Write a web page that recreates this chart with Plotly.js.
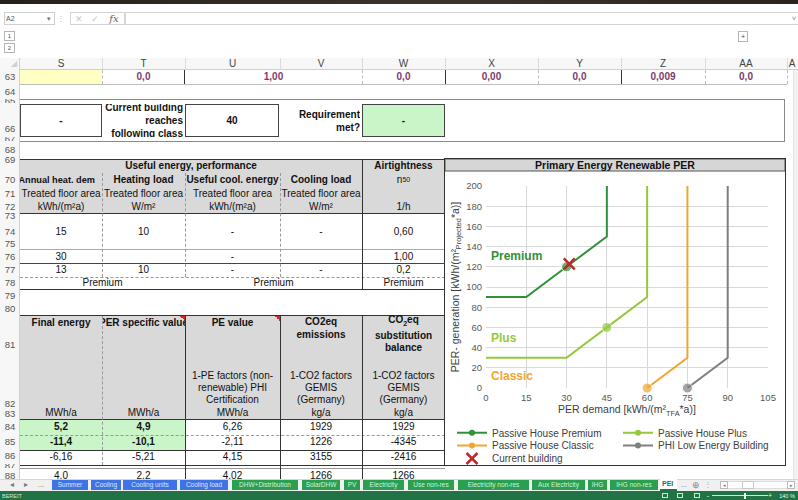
<!DOCTYPE html>
<html><head><meta charset="utf-8">
<script src="https://cdn.plot.ly/plotly-3.0.1.min.js"></script>
<style>
body{margin:0;width:798px;height:500px;overflow:hidden;background:#fff;font-family:Arial,"Liberation Sans",sans-serif;}
#sheet{position:absolute;left:0;top:0;width:798px;height:500px;overflow:hidden;}
.a{position:absolute;box-sizing:border-box;}
.c{position:absolute;box-sizing:border-box;display:flex;align-items:center;justify-content:center;overflow:hidden;white-space:nowrap;font-size:10px;color:#111;line-height:12px;}
#chart{position:absolute;left:445px;top:159px;width:340px;height:306px;z-index:5;outline:2px solid #333;outline-offset:-1px;background:#fff;}
</style></head>
<body><div id="sheet"></div><div id="chart"></div>
<script>
// ---------- chart data ----------
const seriesNames = ['Passive House Premium', 'Passive House Plus', 'Passive House Classic', 'PHI Low Energy Building', 'Current building'];
const premiumDemand = [0, 15, 30, 45, 45];
const premiumGen    = [90, 90, 120, 150, 200];
const premiumMarker = [0, 0, 10, 0, 0];
const plusDemand    = [0, 30, 45, 60, 60];
const plusGen       = [30, 30, 60, 90, 200];
const plusMarker    = [0, 0, 10, 0, 0];
const classicDemand = [60, 75, 75];
const classicGen    = [0, 30, 200];
const classicMarker = [10, 0, 0];
const lowDemand     = [75, 90, 90];
const lowGen        = [0, 30, 200];
const lowMarker     = [10, 0, 0];
const currentDemand = [31];
const currentGen    = [123];
const classLabels   = ['Premium', 'Plus', 'Classic'];
const classLabelY   = [131, 50, 12];
const xTicks = [0, 15, 30, 45, 60, 75, 90, 105];
const yTicks = [0, 20, 40, 60, 80, 100, 120, 140, 160, 180, 200];

// ---------- spreadsheet ----------
const S = document.getElementById('sheet');
function box(x, y, w, h, st) { const d = document.createElement('div'); d.className = 'a'; d.style.cssText = `left:${x}px;top:${y}px;width:${w}px;height:${h}px;` + (st || ''); S.appendChild(d); return d; }
function cell(x0, x1, y0, y1, html, st) { if (html === '') return null; const d = document.createElement('div'); d.className = 'c'; d.style.cssText = `left:${x0}px;top:${y0}px;width:${x1 - x0}px;height:${y1 - y0}px;` + (st || ''); d.innerHTML = html; S.appendChild(d); return d; }
function tc(x0, x1, cy, html, st) { return cell(x0, x1, cy - 7, cy + 7, html, st); }
function hl(x0, x1, y, c, s) { box(x0, y, x1 - x0, 1, `border-top:1px ${s || 'solid'} ${c || '#999'};`); }
function vl(x, y0, y1, c, s) { box(x, y0, 1, y1 - y0, `border-left:1px ${s || 'solid'} ${c || '#999'};`); }
const C = { S: [20, 102], T: [102, 185], U: [185, 280], V: [280, 362], W: [362, 445], X: [445, 538], Y: [538, 621], Z: [621, 705], AA: [705, 787] };

// top band + formula bar
box(0, 0, 798, 4, 'background:linear-gradient(90deg,#24201c,#3d342c 55%,#2a231e);');
box(4, 12, 51, 13, 'border:1px solid #cfcfcf;');
tc(6, 30, 18.5, 'A2', 'font-size:7px;color:#555;justify-content:flex-start;');
tc(44, 54, 18.5, '▾', 'font-size:7px;color:#777;');
tc(58, 64, 18.5, '⋮', 'font-size:8px;color:#bbb;');
box(70, 12, 55, 13, 'border:1px solid #d5d5d5;');
tc(72, 86, 18.5, '✕', 'font-size:9px;color:#c8c8c8;');
tc(88, 102, 18.5, '✓', 'font-size:9px;color:#c8c8c8;');
tc(104, 124, 18.5, '<i>fx</i>', 'font-size:10px;color:#666;font-family:\'DejaVu Serif\',serif;');
box(125, 12, 680, 13, 'border:1px solid #d5d5d5;');
tc(790, 798, 19, '˅', 'font-size:8px;color:#888;');
box(4, 31, 11, 10, 'border:1px solid #b5b5b5;'); tc(4, 15, 36, '1', 'font-size:6px;color:#555;');
box(4, 43, 11, 10, 'border:1px solid #b5b5b5;'); tc(4, 15, 48, '2', 'font-size:6px;color:#555;');
box(738, 31, 10, 11, 'border:1px solid #b5b5b5;'); tc(738, 748, 36.5, '+', 'font-size:8px;color:#555;');

// column headers
box(0, 58, 798, 12, 'background:#f7f7f7;border-bottom:1px solid #cfcfcf;');
box(0, 58, 20, 442, 'background:#f7f7f7;border-right:1px solid #cfcfcf;');
tc(8, 19, 64, '◢', 'font-size:8px;color:#d0d0d0;');
for (const k of Object.keys(C)) { tc(C[k][0], C[k][1], 64, k, 'font-size:10px;color:#444;'); vl(C[k][1], 58, 70, '#dcdcdc'); }
tc(787, 797, 64, 'A', 'font-size:10px;color:#444;');
box(793, 70, 5, 410, 'background:#f2f2f2;border-left:1px solid #e3e3e3;');

// row numbers
const rowNums = [[63, 77], [64, 92], [66, 129], [68, 150], [69, 160], [70, 180], [71, 194], [72, 207], [73, 216], [74, 232], [75, 244], [76, 257], [77, 270], [78, 283], [79, 296], [80, 309], [81, 345], [82, 404], [83, 414], [84, 427], [85, 442], [86, 456]];
for (const [n, y] of rowNums) tc(0, 20, y, String(n), 'font-size:9.5px;color:#555;');
cell(0, 20, 99, 103, '65', 'font-size:9.5px;color:#555;');
cell(0, 20, 137, 141, '67', 'font-size:9.5px;color:#555;');
cell(0, 20, 464, 468, '87', 'font-size:9.5px;color:#555;');
cell(0, 20, 468, 479, '88', 'font-size:9.5px;color:#555;align-items:flex-start;padding-top:2px;');

// row 63
box(20, 70, 82, 14, 'background:#ffffc4;');
const purple = 'font-weight:bold;color:#7e3a6e;';
tc(C.T[0], C.T[1], 77, '0,0', purple);
tc(C.U[0], C.V[1], 77, '1,00', purple);
tc(C.W[0], C.W[1], 77, '0,0', purple);
tc(C.X[0], C.X[1], 77, '0,00', purple);
tc(C.Y[0], C.Y[1], 77, '0,0', purple);
tc(C.Z[0], C.Z[1], 77, '0,009', purple);
tc(C.AA[0], C.AA[1], 77, '0,0', purple);
hl(20, 787, 84, '#bdbdbd');
vl(102, 70, 84, '#bbb', 'dashed'); vl(184, 70, 84, '#333'); vl(362, 70, 84, '#bbb', 'dashed');
vl(445, 70, 84, '#333'); vl(538, 70, 84, '#bbb', 'dashed'); vl(621, 70, 84, '#333'); vl(705, 70, 84, '#bbb', 'dashed'); vl(787, 70, 84, '#bbb', 'dashed');

// box rows 65-67
box(20, 99, 765, 43, 'border:1px solid #8a8a8a;border-left:none;');
box(20, 104, 82, 33, 'border:1px solid #444;');
tc(20, 102, 120.5, '<b>-</b>');
cell(102, 183, 104, 137, '<div style="text-align:right;line-height:13px;font-weight:bold;">Current building<br>reaches<br>following class</div>', 'justify-content:flex-end;');
box(185, 104, 94, 33, 'border:1px solid #444;');
tc(185, 279, 120.5, '<b>40</b>');
cell(280, 360, 104, 137, '<div style="text-align:right;line-height:13px;font-weight:bold;">Requirement<br>met?</div>', 'justify-content:flex-end;');
box(362, 104, 83, 33, 'border:1px solid #444;background:#c9f5c9;');
tc(362, 445, 120.5, '<b>-</b>');

// upper table
box(20, 159, 425, 54, 'background:#d9d9d9;');
hl(20, 445, 159, '#333');
tc(20, 362, 166, '<b>Useful energy, performance</b>');
tc(362, 445, 166, '<b>Airtightness</b>');
tc(20, 102, 180, '<b style="font-size:9.2px;">Annual heat. dem</b>', 'justify-content:flex-end;padding-right:7px;');
tc(102, 185, 180, '<b>Heating load</b>');
tc(185, 280, 180, '<b>Useful cool. energy</b>');
tc(280, 362, 180, '<b>Cooling load</b>');
tc(362, 445, 180, 'n<sub style="font-size:7px;">50</sub>');
for (const k of ['S', 'T', 'U', 'V']) tc(C[k][0], C[k][1], 194, 'Treated floor area');
const unitsTop = ['kWh/(m²a)', 'W/m²', 'kWh/(m²a)', 'W/m²', '1/h'];
['S', 'T', 'U', 'V', 'W'].forEach((k, i) => tc(C[k][0], C[k][1], 207, unitsTop[i]));
const r74 = ['15', '10', '-', '-', '0,60'], r76 = ['30', '', '-', '', '1,00'], r77 = ['13', '10', '-', '-', '0,2'];
['S', 'T', 'U', 'V', 'W'].forEach((k, i) => { tc(C[k][0], C[k][1], 232, r74[i]); tc(C[k][0], C[k][1], 256.5, r76[i]); tc(C[k][0], C[k][1], 270, r77[i]); });
tc(20, 185, 283, 'Premium'); tc(185, 362, 283, 'Premium'); tc(362, 445, 283, 'Premium');
hl(20, 445, 213, '#333'); hl(20, 445, 249, '#aaa'); hl(20, 445, 263, '#444'); hl(20, 445, 277, '#999', 'dashed'); hl(20, 445, 289, '#333');
vl(102, 173, 277, '#999', 'dashed'); vl(185, 173, 277, '#999', 'dashed'); vl(280, 173, 277, '#999', 'dashed');
vl(362, 159, 289, '#333');

// lower table
box(20, 316, 425, 103, 'background:#d9d9d9;');
hl(20, 445, 315, '#333');
tc(20, 102, 323, '<b>Final energy</b>');
tc(102, 185, 323, '<b>PER specific value</b>');
tc(185, 280, 323, '<b>PE value</b>');
tc(280, 362, 322, '<b>CO2eq</b>'); tc(280, 362, 334.5, '<b>emissions</b>');
tc(362, 445, 322, '<b>CO<sub style="font-size:7px;">2</sub>eq</b>'); tc(362, 445, 335.5, '<b>substitution</b>'); tc(362, 445, 348, '<b>balance</b>');
const u82 = ['1-PE factors (non-', 'renewable) PHI', 'Certification'], v82 = ['1-CO2 factors', 'GEMIS', '(Germany)'];
[375.7, 387.7, 399.7].forEach((y, i) => { tc(185, 280, y, u82[i]); tc(280, 362, y, v82[i]); tc(362, 445, y, v82[i]); });
const u83 = ['MWh/a', 'MWh/a', 'MWh/a', 'kg/a', 'kg/a'];
const r84 = ['5,2', '4,9', '6,26', '1929', '1929'], r85 = ['-11,4', '-10,1', '-2,11', '1226', '-4345'], r86 = ['-6,16', '-5,21', '4,15', '3155', '-2416'], r88 = ['4,0', '2,2', '4,02', '1266', '1266'];
box(20, 419, 165, 31, 'background:#c9f5c9;');
['S', 'T', 'U', 'V', 'W'].forEach((k, i) => {
  const b = i < 2 ? 'font-weight:bold;' : '';
  tc(C[k][0], C[k][1], 412.7, u83[i]);
  tc(C[k][0], C[k][1], 427, r84[i], b);
  tc(C[k][0], C[k][1], 442, r85[i], b);
  tc(C[k][0], C[k][1], 457, r86[i]);
  cell(C[k][0], C[k][1], 468, 479, r88[i], 'align-items:flex-start;padding-top:2px;');
});
hl(20, 445, 419, '#333'); hl(20, 445, 435, '#999', 'dashed'); hl(20, 445, 450, '#333'); hl(20, 445, 465, '#333'); hl(20, 445, 468, '#999');
vl(102, 316, 465, '#999', 'dashed'); vl(185, 316, 480, '#333'); vl(280, 316, 480, '#333'); vl(362, 316, 480, '#333');
box(180, 316, 5, 5, 'background:linear-gradient(225deg,#d22 50%,transparent 50%);');
box(275, 316, 5, 5, 'background:linear-gradient(225deg,#d22 50%,transparent 50%);');

// sheet tabs
box(0, 479, 798, 12, 'background:#f0f0f0;border-top:1px solid #d6d6d6;');
tc(6, 18, 485, '◂', 'font-size:8px;color:#777;'); tc(20, 32, 485, '▸', 'font-size:8px;color:#777;'); tc(34, 48, 485, '...', 'font-size:8px;color:#777;');
const tabs = [['Summer', 52, 88, 'b'], ['Cooling', 91, 121, 'b'], ['Cooling units', 123, 177, 'b'], ['Cooling load', 180, 228, 'b'], ['DHW+Distribution', 232, 298, 'g'], ['SolarDHW', 302, 340, 'g'], ['PV', 344, 360, 'g'], ['Electricity', 363, 404, 'g'], ['Use non-res', 408, 454, 'g'], ['Electricity non-res', 458, 529, 'g'], ['Aux Electricity', 532, 585, 'g'], ['IHG', 588, 607, 'g'], ['IHG non-res', 610, 658, 'g']];
for (const [t, x0, x1, c] of tabs) cell(x0, x1, 480, 490, t, `font-size:6.5px;color:${c === 'b' ? '#dbe6ff' : '#d6f2dc'};background:${c === 'b' ? '#3f72e4' : '#28a04f'};`);
cell(660, 677, 479, 491, '<b>PEI</b>', 'font-size:7px;color:#217346;background:#fff;border-bottom:2px solid #217346;justify-content:flex-start;padding-left:2px;');
tc(678, 690, 485, '...', 'font-size:7px;color:#777;');
tc(690, 702, 485, '⊕', 'font-size:9px;color:#888;');
tc(703, 713, 485, '⋮', 'font-size:8px;color:#aaa;');
box(720, 481, 8, 8, 'border:1px solid #bbb;background:#fff;'); tc(720, 728, 485, '◂', 'font-size:5px;color:#777;');
box(728, 481, 60, 8, 'background:#fff;border-top:1px solid #ddd;border-bottom:1px solid #ddd;');
box(742, 481, 12, 8, 'background:#fff;border:1px solid #c8c8c8;');
box(787, 481, 8, 8, 'border:1px solid #bbb;background:#fff;'); tc(787, 795, 485, '▸', 'font-size:5px;color:#777;');

// status bar
box(0, 491, 798, 9, 'background:#217346;');
cell(2, 40, 491, 500, 'BEREIT', 'font-size:5.5px;color:#cfe6d7;justify-content:flex-start;');
box(662, 493, 6, 5, 'border:1px solid #cfe6d7;'); box(677, 493, 6, 5, 'border:1px solid #cfe6d7;'); box(694, 493, 6, 5, 'border:1px solid #cfe6d7;');
cell(704, 712, 491, 500, '-', 'font-size:7px;color:#dfe;');
box(712, 495, 56, 1, 'background:#cfe6d7;'); box(744, 493, 2, 6, 'background:#fff;');
cell(766, 774, 491, 500, '+', 'font-size:7px;color:#dfe;');
cell(776, 798, 491, 500, '140 %', 'font-size:5.5px;color:#dfe;');

// ---------- Plotly chart ----------
const W = 340, H = 306, M = { l: 41, r: 17, t: 27, b: 77 };
const pw = W - M.l - M.r, ph = H - M.t - M.b;
const chartLeft = 445, chartTop = 159;
const px2x = p => (p - chartLeft - M.l) / pw;
const px2y = p => (chartTop + M.t + ph - p) / ph;
const colors = ['#2f9138', '#95c83c', '#f2a531', '#7f7f7f', '#c0272d'];

const lineTrace = (x, y, ms, col) => ({ x, y, type: 'scatter', mode: 'lines+markers', showlegend: false, hoverinfo: 'skip', cliponaxis: false,
  line: { color: col, width: 2 }, marker: { color: col, size: ms, symbol: 'circle' } });
const legendTrace = (name, col, leg) => ({ x: [null], y: [null], type: 'scatter', mode: 'lines+markers', name, legend: leg,
  line: { color: col, width: 2 }, marker: { color: col, size: 6 } });

const traces = [
  lineTrace(lowDemand, lowGen, lowMarker, colors[3]),
  lineTrace(classicDemand, classicGen, classicMarker, colors[2]),
  lineTrace(plusDemand, plusGen, plusMarker, colors[1]),
  lineTrace(premiumDemand, premiumGen, premiumMarker, colors[0]),
  legendTrace(seriesNames[0], colors[0], 'legend'),
  legendTrace(seriesNames[1], colors[1], 'legend2'),
  legendTrace(seriesNames[2], colors[2], 'legend3'),
  legendTrace(seriesNames[3], colors[3], 'legend4'),
  { x: currentDemand, y: currentGen, type: 'scatter', mode: 'markers', name: seriesNames[4], legend: 'legend5', cliponaxis: false,
    marker: { color: colors[4], size: 11, symbol: 'x-thin', line: { color: colors[4], width: 2.5 } } }
];

const legFont = { size: 10, color: '#404040', family: 'Arial, Liberation Sans, sans-serif' };
const mkLeg = (tx, cy) => ({ x: px2x(tx - 40), y: px2y(cy), xanchor: 'left', yanchor: 'middle', bgcolor: 'rgba(0,0,0,0)', font: legFont, itemwidth: 30 });

const layout = {
  width: W, height: H, margin: Object.assign({ autoexpand: false, pad: 0 }, M),
  paper_bgcolor: '#fff', plot_bgcolor: '#fff',
  font: { family: 'Arial, Liberation Sans, sans-serif', color: '#404040' },
  title: { text: '<b>Primary Energy Renewable PER</b>', font: { size: 10.5, color: '#111' }, x: 0.5, xref: 'container', xanchor: 'center', y: 1 - 6.5 / H, yref: 'container', yanchor: 'middle' },
  xaxis: { range: [0, 105], tickvals: xTicks, ticktext: xTicks.map(String), showgrid: true, gridcolor: '#d9d9d9', gridwidth: 1, zeroline: false, showline: false,
    tickfont: { size: 9.5, color: '#595959' }, ticks: '', fixedrange: true, ticklabelstandoff: 2,
    title: { text: 'PER demand [kWh/(m²<sub>TFA</sub>*a)]', font: { size: 10.5, color: '#404040' }, standoff: 4 } },
  yaxis: { range: [0, 200], tickvals: yTicks, ticktext: yTicks.map(String), showgrid: true, gridcolor: '#d9d9d9', gridwidth: 1, zeroline: false, showline: false,
    tickfont: { size: 9.5, color: '#595959' }, ticks: '', fixedrange: true, ticklabelstandoff: 3,
    title: { text: 'PER- generation [kWh/(m²<sub>Projected</sub>*a)]', font: { size: 10.5, color: '#404040' }, standoff: 4 } },
  legend: mkLeg(492, 432.7), legend2: mkLeg(658, 432.7), legend3: mkLeg(492, 445.5), legend4: mkLeg(658, 445.5), legend5: mkLeg(492, 458.5),
  annotations: classLabels.map((t, i) => ({ x: 1, y: classLabelY[i], xref: 'x', yref: 'y', text: '<b>' + t + '</b>', showarrow: false, xanchor: 'left', yanchor: 'middle',
    font: { size: 12, color: colors[i] } })),
  shapes: [{ type: 'rect', xref: 'paper', yref: 'paper', x0: px2x(chartLeft), x1: px2x(chartLeft + W), y0: px2y(chartTop + 12), y1: px2y(chartTop), fillcolor: '#d6d6d6', line: { color: '#555', width: 1 }, layer: 'below' }],
  showlegend: true
};
Plotly.newPlot('chart', traces, layout, { staticPlot: true, displayModeBar: false });
</script>
</body></html>
